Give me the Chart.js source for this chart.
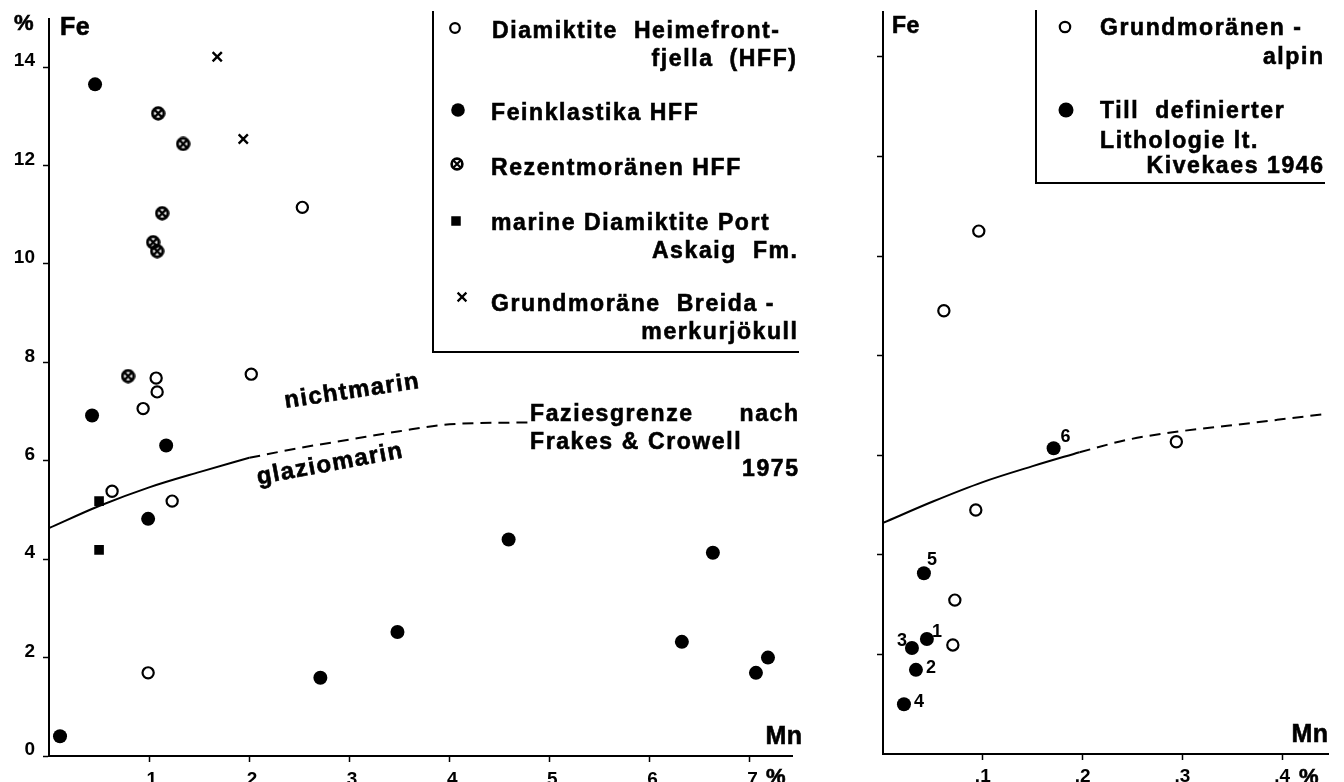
<!DOCTYPE html>
<html><head><meta charset="utf-8">
<script src="https://cdn.jsdelivr.net/npm/chart.js@4.4.1/dist/chart.umd.min.js"></script>
<style>
html,body{margin:0;padding:0;background:#fff;}
#wrap{position:relative;width:1344px;height:782px;overflow:hidden;background:#fff;font-family:"Liberation Sans",Arial,sans-serif;color:#000;}
canvas{position:absolute;top:0;}
.t{position:absolute;white-space:pre;line-height:1;font-weight:bold;-webkit-text-stroke:0.6px #000;}
.box{position:absolute;border-left:2px solid #000;border-bottom:2px solid #000;}
</style></head><body><div id="wrap">
<canvas id="cL" width="830" height="782" style="left:0;width:830px;height:782px"></canvas>
<canvas id="cR" width="504" height="782" style="left:840px;width:504px;height:782px"></canvas>
</div>
<script>
// ---------- axis ticks ----------
const leftXTicks = [0.1,0.2,0.3,0.4,0.5,0.6,0.7];
const leftXTickLabels = ['.1','.2','.3','.4','.5','.6','.7'];
const leftYTicks = [0,2,4,6,8,10,12,14];
const leftYTickLabels = ['0','2','4','6','8','10','12','14'];
const rightXTicks = [0.1,0.2,0.3,0.4];
const rightXTickLabels = ['.1','.2','.3','.4'];
const rightYTicks = [2,4,6,8,10,12,14];

// ---------- left panel data (Mn %, Fe %) ----------
const diamHFF_Mn = [0.253,0.107,0.108,0.202,0.094,0.063,0.123,0.099];
const diamHFF_Fe = [11.15,7.68,7.40,7.76,7.06,5.38,5.18,1.69];
const feinHFF_Mn = [0.046,0.043,0.117,0.099,0.011,0.271,0.348,0.459,0.663,0.632,0.718,0.706];
const feinHFF_Fe = [13.65,6.92,6.31,4.82,0.40,1.59,2.52,4.40,4.13,2.32,2.00,1.69];
const rezHFF_Mn = [0.109,0.134,0.113,0.104,0.108,0.079];
const rezHFF_Fe = [13.06,12.44,11.03,10.44,10.26,7.72];
const portAskaig_Mn = [0.050,0.050];
const portAskaig_Fe = [5.18,4.19];
const breida_Mn = [0.168,0.194];
const breida_Fe = [14.21,12.54];
const faziesSolidL_Mn = [0,0.05,0.1,0.15,0.2];
const faziesSolidL_Fe = [4.63,5.08,5.46,5.77,6.06];
const faziesDashL_Mn = [0.2,0.25,0.3,0.35,0.4,0.48];
const faziesDashL_Fe = [6.06,6.26,6.43,6.6,6.74,6.78];

// ---------- right panel data ----------
const alpin_Mn = [0.096,0.061,0.294,0.093,0.072,0.070];
const alpin_Fe = [10.50,8.90,6.27,4.90,3.09,2.19];
const till_Mn = [0.171,0.041,0.044,0.029,0.033,0.021];
const till_Fe = [6.14,3.63,2.31,2.13,1.69,1.00];
const till_Labels = ['6','5','1','3','2','4'];
const faziesSolidR_Mn = [0,0.05,0.1,0.15,0.197];
const faziesSolidR_Fe = [4.64,5.07,5.46,5.78,6.06];
const faziesDashR_Mn = [0.197,0.245,0.294,0.345,0.395,0.444];
const faziesDashR_Fe = [6.06,6.31,6.47,6.59,6.71,6.83];

// label offsets for numbered points (style, not data)
const tillLabelDx = [12,8,10,-10,15,15];
const tillLabelDy = [-11,-13,-7,-7,-2,-2];

const FONT = '"Liberation Sans", Arial, sans-serif';
const pts = (xs, ys) => xs.map((x, i) => ({x, y: ys[i]}));

function crossCircle(d, lw) {
  const c = document.createElement('canvas'); c.width = c.height = d;
  const g = c.getContext('2d'); const r = d / 2, rr = r - lw / 2 - 0.3;
  g.strokeStyle = '#000'; g.lineWidth = lw;
  g.beginPath(); g.arc(r, r, rr, 0, Math.PI * 2); g.stroke();
  g.lineWidth = lw * 0.8;
  const k = rr * 0.7071;
  g.beginPath(); g.moveTo(r - k, r - k); g.lineTo(r + k, r + k);
  g.moveTo(r + k, r - k); g.lineTo(r - k, r + k); g.stroke();
  return c;
}
const crossImg = crossCircle(15, 3);
const crossImgSmall = crossCircle(14, 2.7);

const openDS = (data) => ({data, pointStyle:'circle', pointRadius:5.6, pointBorderWidth:2.2, pointBackgroundColor:'#fff', pointBorderColor:'#000'});
const filledDS = (data) => ({data, pointStyle:'circle', pointRadius:7, pointBorderWidth:0, pointBackgroundColor:'#000', pointBorderColor:'#000'});
const curveDS = (data, dash) => ({data, showLine:true, pointRadius:0, borderColor:'#000', borderWidth:2, borderDash:dash, cubicInterpolationMode:'monotone', fill:false});

const tickFont = {family: FONT, weight:'bold', size:19};
function axisX(tArr, labels, max, h, pad) {
  return { type:'linear', min:0, max,
    border:{display:true, color:'#000', width:2},
    grid:{display:true, drawOnChartArea:false, drawTicks:true, tickLength:6, tickColor:'#000', tickWidth:1.5},
    ticks:{display:true, color:'#000', font:tickFont, padding:pad, maxRotation:0, autoSkip:false, callback:(v,i)=>labels[i]},
    afterBuildTicks:a=>{a.ticks = tArr.map(v=>({value:v}));},
    afterFit:a=>{a.height = h;} };
}
function axisY(tArr, labels, max, w) {
  return { type:'linear', min:0, max,
    border:{display:true, color:'#000', width:2},
    grid:{display:true, drawOnChartArea:false, drawTicks:true, tickLength:6, tickColor:'#000', tickWidth:1.5},
    ticks:{display:!!labels, color:'#000', font:tickFont, padding:8, labelOffset:-6, autoSkip:false, callback:(v,i)=>labels ? labels[i] : ''},
    afterBuildTicks:a=>{a.ticks = tArr.map(v=>({value:v}));},
    afterFit:a=>{a.width = w;} };
}

function marker(ctx, kind, x, y, s) {
  ctx.save(); ctx.strokeStyle = '#000'; ctx.fillStyle = '#000';
  if (kind === 'open') { ctx.lineWidth = 2.2; ctx.fillStyle = '#fff'; ctx.beginPath(); ctx.arc(x, y, s, 0, Math.PI*2); ctx.fill(); ctx.stroke(); }
  else if (kind === 'filled') { ctx.beginPath(); ctx.arc(x, y, s, 0, Math.PI*2); ctx.fill(); }
  else if (kind === 'square') { ctx.fillRect(x - s/2, y - s/2, s, s); }
  else if (kind === 'x') { ctx.lineWidth = 2.2; ctx.beginPath(); ctx.moveTo(x-s, y-s); ctx.lineTo(x+s, y+s); ctx.moveTo(x+s, y-s); ctx.lineTo(x-s, y+s); ctx.stroke(); }
  else if (kind === 'cross') { ctx.drawImage(crossImgSmall, x - crossImgSmall.width/2, y - crossImgSmall.height/2); }
  ctx.restore();
}

const common = (scales, padding) => ({
  responsive:false, animation:false, devicePixelRatio:1, events:[],
  layout:{padding},
  plugins:{legend:{display:false}, tooltip:{enabled:false}},
  scales
});

new Chart(document.getElementById('cL'), {
  type:'scatter',
  data:{datasets:[
    Object.assign(filledDS(pts(feinHFF_Mn, feinHFF_Fe)), {label:'Feinklastika HFF'}),
    Object.assign(openDS(pts(diamHFF_Mn, diamHFF_Fe)), {label:'Diamiktite Heimefrontfjella (HFF)'}),
    {label:'Rezentmoränen HFF', data:pts(rezHFF_Mn, rezHFF_Fe), pointStyle:crossImg, pointRadius:7.5},
    {label:'marine Diamiktite Port Askaig Fm.', data:pts(portAskaig_Mn, portAskaig_Fe), pointStyle:'rect', pointRadius:6.8, pointBorderWidth:0, pointBackgroundColor:'#000'},
    {label:'Grundmoräne Breidamerkurjökull', data:pts(breida_Mn, breida_Fe), pointStyle:'crossRot', pointRadius:6.5, pointBorderWidth:2.4, pointBorderColor:'#000'},
    Object.assign(curveDS(pts(faziesSolidL_Mn, faziesSolidL_Fe), []), {label:'Faziesgrenze'}),
    Object.assign(curveDS(pts(faziesDashL_Mn, faziesDashL_Fe), [11,7]), {label:'Faziesgrenze (extrapoliert)'})
  ]},
  options: common({x: axisX(leftXTicks, leftXTickLabels, 0.742, 26, 6), y: axisY(leftYTicks, leftYTickLabels, 14.97, 49)}, {left:0, top:13, right:38, bottom:0}),
  plugins:[{id:'legL', afterDraw(chart){
    const c = chart.ctx;
    marker(c, 'open', 455, 28, 4.8);
    marker(c, 'filled', 458, 110, 6.8);
    marker(c, 'cross', 457, 164, 0);
    marker(c, 'square', 456, 221, 9.5);
    marker(c, 'x', 462, 297, 4.4);
  }}]
});

new Chart(document.getElementById('cR'), {
  type:'scatter',
  data:{datasets:[
    Object.assign(filledDS(pts(till_Mn, till_Fe)), {label:'Till definierter Lithologie lt. Kivekaes 1946'}),
    Object.assign(openDS(pts(alpin_Mn, alpin_Fe)), {label:'Grundmoränen - alpin'}),
    Object.assign(curveDS(pts(faziesSolidR_Mn, faziesSolidR_Fe), []), {label:'Faziesgrenze'}),
    Object.assign(curveDS(pts(faziesDashR_Mn, faziesDashR_Fe), [11,7]), {label:'Faziesgrenze (extrapoliert)'})
  ]},
  options: common({x: axisX(rightXTicks, rightXTickLabels, 0.446, 28, 5), y: axisY(rightYTicks, null, 14.9, 43)}, {left:0, top:12, right:16, bottom:0}),
  plugins:[{id:'legR', afterDraw(chart){
    const c = chart.ctx;
    marker(c, 'open', 225, 27, 5.2);
    marker(c, 'filled', 226, 110, 7.5);
    const meta = chart.getDatasetMeta(0);
    c.save(); c.fillStyle = '#000'; c.font = 'bold 18px ' + FONT; c.textAlign = 'center'; c.textBaseline = 'middle';
    meta.data.forEach((el, i) => { c.fillText(till_Labels[i], el.x + tillLabelDx[i], el.y + tillLabelDy[i]); });
    c.restore();
  }}]
});

// ---------- text annotations ----------
const wrap = document.getElementById('wrap');
function txt(s, x, y, o = {}) {
  const d = document.createElement('div'); d.className = 't'; d.textContent = s;
  const fs = o.size || 23, ls = (o.ls !== undefined ? o.ls : 1.6);
  d.style.fontSize = fs + 'px'; d.style.letterSpacing = ls + 'px';
  if (o.rot !== undefined) {
    d.style.left = x + 'px'; d.style.top = y + 'px';
    d.style.transform = 'translate(-50%,-50%) rotate(' + o.rot + 'deg)';
  } else {
    d.style.top = (y - fs / 2) + 'px';
    if (o.right) d.style.right = (1344 - x - ls) + 'px'; else d.style.left = x + 'px';
  }
  wrap.appendChild(d);
}
function box(l, t, r, b) {
  const d = document.createElement('div'); d.className = 'box';
  d.style.left = l + 'px'; d.style.top = t + 'px'; d.style.width = (r - l) + 'px'; d.style.height = (b - t) + 'px';
  wrap.appendChild(d);
}
// left panel
txt('%', 14, 23, {size:22, ls:0});
txt('Fe', 60, 26, {size:25, ls:0.5});
txt('Mn', 802, 735, {size:25, ls:0.5, right:true});
txt('%', 766, 777, {size:22, ls:0});
box(432, 11, 797, 351);
txt('Diamiktite  Heimefront-', 492, 30);
txt('fjella  (HFF)', 796, 58, {right:true});
txt('Feinklastika HFF', 491, 112);
txt('Rezentmoränen HFF', 491, 167);
txt('marine Diamiktite Port', 491, 222);
txt('Askaig  Fm.', 797, 250, {right:true});
txt('Grundmoräne  Breida -', 491, 303);
txt('merkurjökull', 797, 331, {right:true});
txt('nichtmarin', 352, 390, {size:24, ls:1.4, rot:-8.5});
txt('glaziomarin', 330, 463, {size:24, ls:1.4, rot:-10.5});
txt('Faziesgrenze', 530, 413);
txt('nach', 798, 413, {right:true});
txt('Frakes & Crowell', 530, 441);
txt('1975', 798, 468, {right:true});
// right panel
txt('Fe', 892, 25, {size:23, ls:0.5});
txt('Mn', 1328, 733, {size:25, ls:0.5, right:true});
txt('%', 1299, 777, {size:22, ls:0});
box(1035, 10, 1323, 182);
txt('Grundmoränen -', 1100, 27);
txt('alpin', 1323, 56, {right:true});
txt('Till  definierter', 1100, 110);
txt('Lithologie lt.', 1100, 140);
txt('Kivekaes 1946', 1323, 165, {right:true});
</script>
</body></html>
